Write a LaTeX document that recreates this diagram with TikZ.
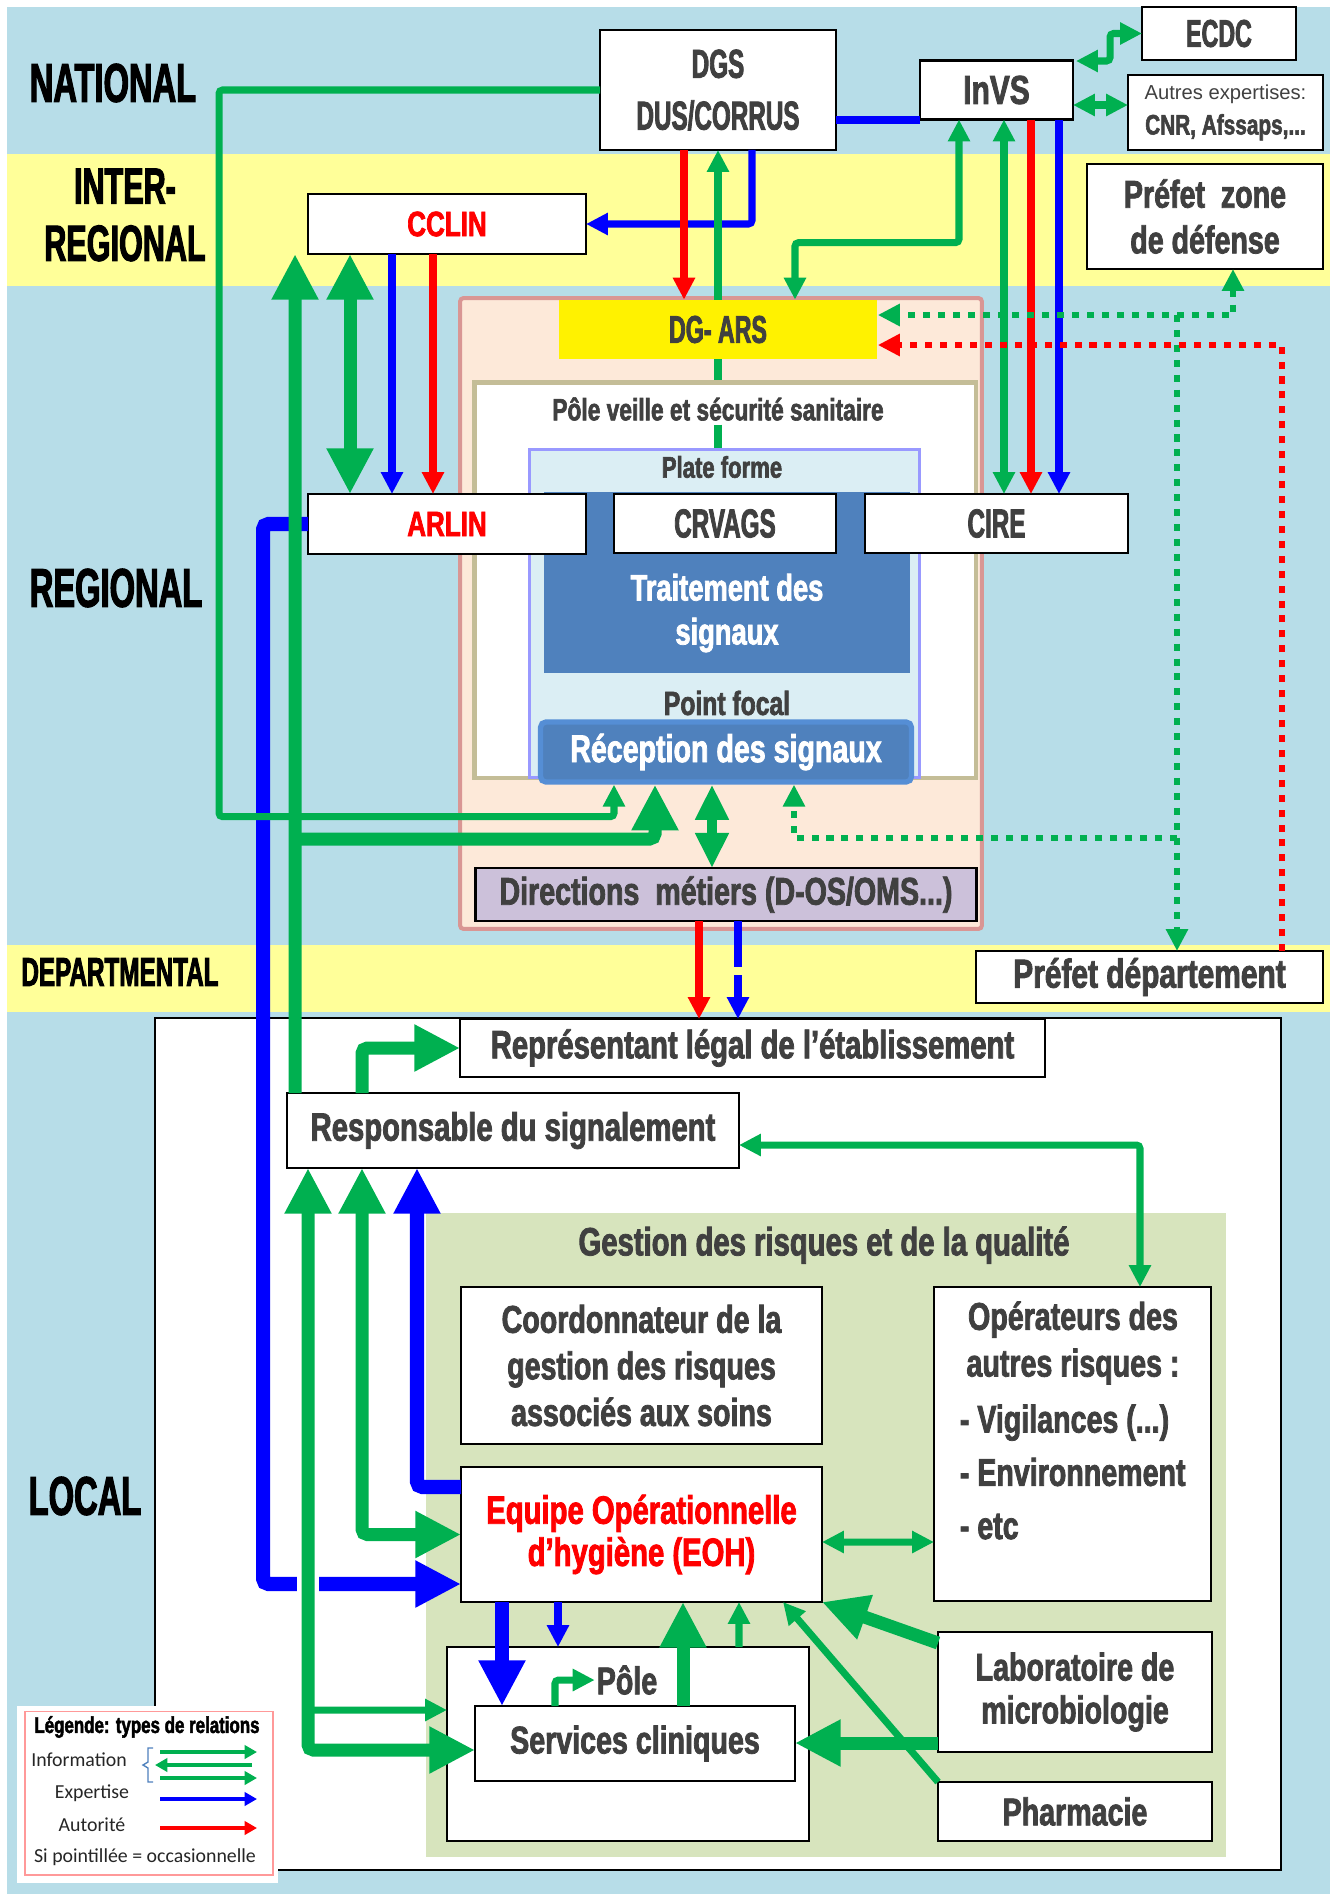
\documentclass[tikz,border=0pt]{standalone}
\usepackage{fontspec}
\usetikzlibrary{arrows.meta, calc}

\newfontfamily\impactfont{Liberation Sans}[FakeStretch=0.74, BoldFeatures={FakeBold=2}]
\newfontfamily\capsfont{Liberation Sans}[FakeStretch=0.6, BoldFeatures={FakeBold=2}]
\newfontfamily\plainfont{Liberation Sans}
\newfontfamily\legendfont{Carlito}
\newcommand{\boxfont}[2]{\impactfont\bfseries\fontsize{#1}{#2}\selectfont}
\newcommand{\capsbox}[2]{\capsfont\bfseries\fontsize{#1}{#2}\selectfont}

\definecolor{infogreen}{HTML}{00B050}
\definecolor{expblue}{HTML}{0000FF}
\definecolor{autred}{HTML}{FF0000}
\definecolor{skyband}{HTML}{B7DDE8}
\definecolor{yellowband}{HTML}{FFFF99}
\definecolor{arsfill}{HTML}{FDE9D9}
\definecolor{arsdraw}{HTML}{D99694}
\definecolor{poledraw}{HTML}{C4BD97}
\definecolor{platefill}{HTML}{DBEEF4}
\definecolor{platedraw}{HTML}{9999FF}
\definecolor{signalblue}{HTML}{4F81BD}
\definecolor{receptdraw}{HTML}{558ED5}
\definecolor{dirfill}{HTML}{CCC1DA}
\definecolor{gestfill}{HTML}{D7E4BD}
\definecolor{textgray}{HTML}{404040}
\definecolor{legendpink}{HTML}{FF9999}

\begin{document}
\begin{tikzpicture}[x=0.02cm, y=-0.02cm]
    % Styles for boxes and relations
    \tikzstyle{box}=[draw, fill=white, line width=1.3pt, inner sep=2pt, outer sep=0pt, align=center, text=textgray]
    \tikzstyle{txt}=[inner sep=2pt, align=center, text=textgray]
    \tikzstyle{level}=[font=\capsbox{31}{34}, align=center, text=black]
    \tikzstyle{legtext}=[inner sep=1pt, text=black!85, font=\legendfont\fontsize{11.3}{13}\selectfont]
    \tikzstyle{info}=[color=infogreen, line width=4pt, rounded corners=2pt]
    \tikzstyle{infomid}=[color=infogreen, line width=5.7pt]
    \tikzstyle{infothick}=[color=infogreen, line width=7.4pt, rounded corners=3pt]
    \tikzstyle{expert}=[color=expblue, line width=4pt, rounded corners=2pt]
    \tikzstyle{expertthick}=[color=expblue, line width=8pt, rounded corners=3pt]
    \tikzstyle{auth}=[color=autred, line width=4pt]
    \tikzstyle{occinfo}=[color=infogreen, line width=3.3pt, dash pattern=on 4pt off 4.5pt]
    \tikzstyle{occauth}=[color=autred, line width=3.3pt, dash pattern=on 4pt off 4.5pt]
    \tikzstyle{occexpert}=[color=expblue, line width=4pt, dash pattern=on 26pt off 5pt]
    \tikzstyle{legarrow}=[line width=2.4pt, -{Triangle[width=7.5pt,length=7pt]}]
    \tikzstyle{headS}=[-{Triangle[width=12pt,length=12.5pt]}]
    \tikzstyle{headsS}=[{Triangle[width=12pt,length=12.5pt]}-{Triangle[width=12pt,length=12.5pt]}]
    \tikzstyle{headsM}=[{Triangle[width=18pt,length=20pt]}-{Triangle[width=18pt,length=20pt]}]
    \tikzstyle{headB}=[-{Triangle[width=25pt,length=26pt]}]
    \tikzstyle{headsB}=[{Triangle[width=25pt,length=26pt]}-{Triangle[width=25pt,length=26pt]}]

    \useasboundingbox (0,0) rectangle (1330,1894);

    % Level bands
    \fill[skyband] (7,7) rectangle (1330,1894);
    \fill[yellowband] (7,154) rectangle (1330,286);
    \fill[yellowband] (7,945) rectangle (1330,1012);

    \node[level] (natl) at (113,83) {NATIONAL};
    \node[level, font=\capsbox{29}{32.5}] (interl) at (125,215) {INTER-\\REGIONAL};
    \node[level] (regl) at (116,588) {REGIONAL};
    \node[level, font=\capsbox{23}{26}] (depl) at (120,972) {DEPARTMENTAL};
    \node[level] (locl) at (85,1496) {LOCAL};

    % National
    \node[box, minimum width=4.72cm, minimum height=2.4cm, font=\capsbox{23}{29.5}] (dgs) at (718,90) {DGS\\DUS/CORRUS};
    \node[box, minimum width=3.06cm, minimum height=1.18cm, font=\boxfont{23}{27}] (invs) at (996.5,90) {InVS};
    \node[box, minimum width=3.08cm, minimum height=1.06cm, font=\capsbox{22}{26}] (ecdc) at (1219,33.5) {ECDC};
    \node[box, minimum width=3.9cm, minimum height=1.5cm, font=\boxfont{16}{19}] (autres) at (1225.5,112.5)
        {{\plainfont\mdseries\fontsize{11.5}{13}\selectfont Autres expertises:}\\[1pt]CNR, Afssaps,...};

    % Inter-regional
    \node[box, minimum width=4.72cm, minimum height=2.1cm, font=\boxfont{22}{26}] (prefz) at (1205,216.5) {Préfet~ zone\\de défense};
    \node[box, minimum width=5.56cm, minimum height=1.2cm, text=autred, font=\boxfont{20}{24}] (cclin) at (447,224) {CCLIN};

    % Regional: ARS
    \node[draw=arsdraw, fill=arsfill, line width=2.3pt, rounded corners=2pt, minimum width=10.44cm, minimum height=12.62cm] (ars) at (721,613.5) {};
    \node[draw=poledraw, fill=white, line width=2.8pt, minimum width=10.04cm, minimum height=7.92cm] (pvss) at (725,580) {};
    \node[draw=platedraw, fill=platefill, line width=1.7pt, minimum width=7.82cm, minimum height=6.58cm] (plate) at (724.5,613.5) {};
    \node[fill=signalblue, minimum width=7.32cm, minimum height=3.62cm] (trait) at (727,582.5) {};
    \node[draw=receptdraw, fill=signalblue, line width=3pt, rounded corners=3pt, minimum width=7.42cm, minimum height=1.2cm,
          text=white, font=\boxfont{22}{25}] (recep) at (726,752) {Réception des signaux};
    \node[txt, font=\boxfont{17.5}{20}] (pvlbl) at (718,409) {Pôle veille et sécurité sanitaire};
    \node[txt, font=\boxfont{17}{20}] (platelbl) at (722,467) {Plate forme};
    \node[txt, text=white, font=\boxfont{21}{25}] (traittxt) at (727,613) {Traitement des\\signaux};
    \node[txt, font=\boxfont{19}{22}] (focal) at (727,703) {Point focal};
    \node[fill=yellow, minimum width=6.38cm, minimum height=1.18cm, text=textgray, font=\capsbox{22}{26}] (dgars) at (718,329.5) {DG- ARS};
    \node[box, minimum width=5.56cm, minimum height=1.2cm, text=autred, font=\boxfont{20}{24}] (arlin) at (447,524) {ARLIN};
    \node[box, minimum width=4.44cm, minimum height=1.18cm, font=\capsbox{23}{27}] (crvags) at (725,523.5) {CRVAGS};
    \node[box, minimum width=5.26cm, minimum height=1.18cm, font=\capsbox{23}{27}] (cire) at (996.5,523.5) {CIRE};
    \node[box, fill=dirfill, minimum width=10.02cm, minimum height=1.06cm, font=\boxfont{22}{26}] (dirm) at (726,894.5) {Directions~ métiers (D-OS/OMS...)};

    % Departmental
    \node[box, minimum width=6.94cm, minimum height=1.04cm, font=\boxfont{23}{27}] (prefd) at (1149.5,977) {Préfet département};

    % Local
    \node[draw, fill=white, line width=1.2pt, minimum width=22.52cm, minimum height=17.04cm] (localbox) at (718,1444) {};
    \node[fill=gestfill, minimum width=16cm, minimum height=12.88cm] (gestion) at (826,1535) {};
    \node[txt, font=\boxfont{22.5}{26}] (gestlbl) at (824,1245) {Gestion des risques et de la qualité};
    \node[box, minimum width=11.7cm, minimum height=1.16cm, font=\boxfont{22.5}{26}] (repr) at (752.5,1048) {Représentant légal de l’établissement};
    \node[box, minimum width=9.04cm, minimum height=1.5cm, font=\boxfont{22.5}{26}] (resp) at (513,1130.5) {Responsable du signalement};
    \node[box, minimum width=7.22cm, minimum height=3.14cm, font=\boxfont{22}{26.5}] (coord) at (641.5,1365.5) {Coordonnateur de la\\gestion des risques\\associés aux soins};
    \node[box, minimum width=5.54cm, minimum height=6.28cm] (oper) at (1072.5,1444) {};
    \node[txt, font=\boxfont{22}{26.6}] (opertxt) at (1073,1343) {Opérateurs des\\autres risques :};
    \node[txt, anchor=west, align=left, font=\boxfont{22}{30.3}] (operlist) at (956,1472) {- Vigilances (...)\\- Environnement\\- etc};
    \node[box, minimum width=7.22cm, minimum height=2.7cm, text=autred, font=\boxfont{22.5}{24}] (eoh) at (641.5,1534.5) {Equipe Opérationnelle\\d’hygiène (EOH)};
    \node[box, minimum width=7.24cm, minimum height=3.88cm] (polebox) at (628,1744) {};
    \node[txt, inner sep=1pt, font=\boxfont{22}{26}] (polelbl) at (627,1680) {Pôle};
    \node[box, minimum width=6.4cm, minimum height=1.5cm, font=\boxfont{22}{26}] (serv) at (635,1743.5) {Services cliniques};
    \node[box, minimum width=5.48cm, minimum height=2.4cm, font=\boxfont{22}{24.4}] (lab) at (1075,1692) {Laboratoire de\\microbiologie};
    \node[box, minimum width=5.48cm, minimum height=1.18cm, font=\boxfont{22}{26}] (pharma) at (1075,1811.5) {Pharmacie};

    % National and regional relations
    \draw[expert, headS] ($(dgs.south)+(34,0)$) |- (cclin.east);
    \draw[auth, headS] ($(dgs.south)+(-34,0)$) -- ($(dgars.north)+(-34,0)$);
    \draw[info, headS] (dgars.north) -- (dgs.south);
    \draw[info] (dgars.south) -- (dgars.south |- pvss.north);
    \draw[info] (pvlbl.south) -- (pvlbl.south |- plate.north);
    \draw[expert, line width=4.2pt] ($(dgs.east)+(0,30)$) -- ($(invs.west)+(0,30)$);
    \draw[info, headsS] ($(dgars.north)+(77,0)$) -- ++(0,-57) -| ($(invs.south)+(-37.5,0)$);
    \draw[info, headsS] ($(invs.east)+(3,-29)$) -| ($(ecdc.west)+(-32,0)$) -- (ecdc.west);
    \draw[info, headsS] ($(invs.east)+(0,15)$) -- ($(autres.west)+(0,-7.5)$);
    \draw[info, headsS] ($(invs.south)+(7.5,0)$) -- ($(cire.north)+(7.5,0)$);
    \draw[auth, headS] ($(invs.south)+(34.5,0)$) -- ($(cire.north)+(34.5,0)$);
    \draw[expert, headS] ($(invs.south)+(62.5,0)$) -- ($(cire.north)+(62.5,0)$);

    \draw[infothick, headsB] ($(cclin.south)+(-97,0)$) -- ($(arlin.north)+(-97,0)$);
    \draw[expert, headS] ($(cclin.south)+(-55,0)$) -- ($(arlin.north)+(-55,0)$);
    \draw[auth, headS] ($(cclin.south)+(-14,0)$) -- ($(arlin.north)+(-14,0)$);
    \draw[infomid, headsM] ($(recep.south)+(-14,0)$) -- ($(dirm.north)+(-14,0)$);

    % Occasional relations (prefects)
    \coordinate (dotjoin) at ($(prefd.north)+(27.5,-636)$);
    \draw[occinfo, headsS] ($(prefz.south)+(28,0)$) |- ($(dgars.east)+(0,-14.5)$);
    \draw[occinfo, headS] (dotjoin) -- ($(prefd.north)+(27.5,0)$);
    \draw[occinfo, headS] ($(prefd.north)+(27.5,-113)$) -| ($(recep.south)+(68,0)$);
    \draw[occauth, headS] ($(prefd.north)+(132.5,0)$) |- ($(dgars.east)+(0,15.5)$);

    % ARS to establishment
    \draw[auth, headS] ($(dirm.south)+(-27,0)$) -- ($(repr.north)+(-53.5,0)$);
    \draw[occexpert, headS] ($(dirm.south)+(12,0)$) -- ($(repr.north)+(-14.5,0)$);

    % Signalling from the establishment
    \draw[expertthick, headB] (arlin.west) -- ++(-45,0) |- ($(eoh.west)+(0,49.5)$);
    \draw[info, headS] (dgs.west) -- ++(-381,0) |- ($(recep.south)+(-112,32)$) -- ($(recep.south)+(-112,0)$);
    \draw[infothick, headB] ($(resp.north)+(-218,0)$) -- ($(cclin.south west)+(-13,0)$);
    \draw[infothick, headB] ($(resp.north)+(-218,-254)$) -| ($(recep.south)+(-71,0)$);
    \draw[infothick, headB] ($(resp.north)+(-151,0)$) |- (repr.west);

    % Inside the establishment
    \draw[white, line width=12pt] ($(resp.south)+(-205,408)$) -- ($(resp.south)+(-205,424)$);
    \draw[infothick, headsB] ($(resp.south)+(-205,0)$) |- ($(serv.west)+(0,6.5)$);
    \draw[info, headS] ($(resp.south)+(-205,542)$) -- ($(polebox.west)+(0,-34)$);
    \draw[infothick, headsB] ($(resp.south)+(-151,0)$) |- (eoh.west);
    \draw[expertthick, headB] ($(eoh.west)+(0,-47.5)$) -| ($(resp.south)+(-96,0)$);
    \draw[info, headsS] ($(resp.east)+(0,14.5)$) -| ($(oper.north)+(67.5,0)$);
    \draw[info, headsS] ($(eoh.east)+(0,7.5)$) -- ($(oper.west)+(0,98)$);

    \draw[expertthick, headB] ($(eoh.south)+(-139.5,0)$) -- ($(serv.north)+(-133,0)$);
    \draw[expert, headS] ($(eoh.south)+(-83.5,0)$) -- ($(polebox.north)+(-70,0)$);
    \draw[infothick, headB] ($(serv.north)+(48,0)$) -- ($(eoh.south)+(41.5,0)$);
    \draw[info, headS] ($(polebox.north)+(111,0)$) -- ($(eoh.south)+(97.5,0)$);
    \draw[info, headS] (pharma.north west) -- ($(eoh.south)+(141.5,0)$);
    \draw[infothick, headB] ($(lab.north west)+(0,11)$) -- (eoh.south east);
    \draw[infothick, headB] ($(lab.west)+(0,51)$) -- ($(serv.east)+(0,-0.5)$);
    \draw[info, headS] ($(serv.north)+(-80,0)$) |- (polelbl.west);

    % Legend
    \node[fill=white, minimum width=5.22cm, minimum height=3.54cm] (legbg) at (147.5,1794.5) {};
    \node[draw=legendpink, line width=0.6pt, minimum width=4.96cm, minimum height=3.28cm] (legend) at (149,1793) {};
    \node[txt, text=black, font=\boxfont{13}{15}] (legtitle) at (147,1727) {Légende: types de relations};
    \node[legtext] (leginfo) at (79,1760) {Information};
    \node[legtext] (legexp) at (92,1793) {Expertise};
    \node[legtext] (legaut) at (92,1825) {Autorité};
    \node[legtext] (legocc) at (145,1857) {Si pointillée = occasionnelle};
    \draw[signalblue, line width=0.8pt] (153,1748) -- (148,1748) -- (148,1762) -- (143,1765) -- (148,1768) -- (148,1782) -- (153,1782);
    \foreach \y/\c in {1752/infogreen, 1778/infogreen, 1799/expblue, 1828/autred}
        \draw[legarrow, \c] (160,\y) -- (257,\y);
    \draw[legarrow, infogreen] (252,1765) -- (155,1765);

\end{tikzpicture}
\end{document}
